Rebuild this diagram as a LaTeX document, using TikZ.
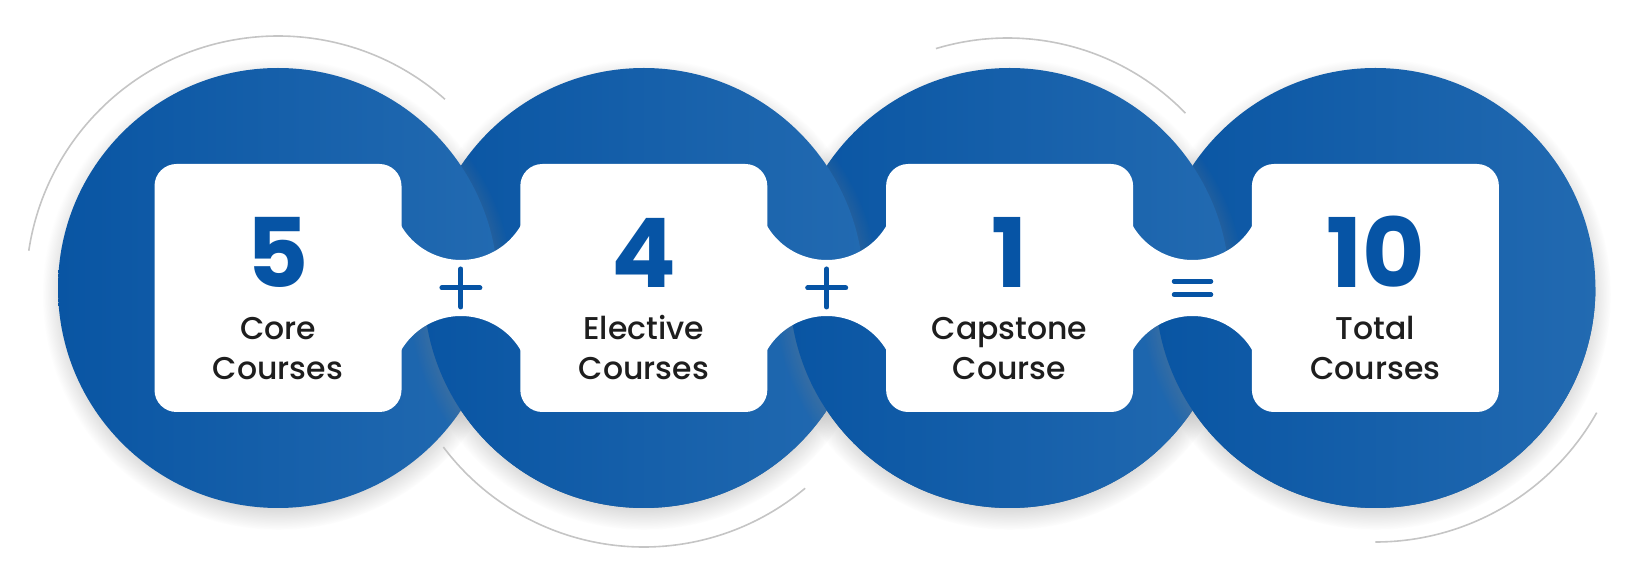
\documentclass[tikz,border=0pt]{standalone}
\usepackage{fontspec}
\IfFontExistsTF{Poppins Medium}
	{\setmainfont{Poppins}[UprightFont=* Medium, BoldFont=* Bold]}
	{\setmainfont{Poppins}}
\usetikzlibrary{calc,shadows}

\definecolor{ringdark}{HTML}{0955A3}
\definecolor{ringlight}{HTML}{226AB1}
\definecolor{numblue}{HTML}{0654A5}
\definecolor{txtgray}{HTML}{1E1E1E}
\definecolor{arcgray}{HTML}{C5C5C5}

\tikzset{
	ring/.style={circle, minimum size=440pt, inner sep=0pt, left color=ringdark, right color=ringlight,
		circular drop shadow={shadow scale=1.07, shadow xshift=0pt, shadow yshift=-6pt, opacity=.45}},
	card/.style={rectangle, rounded corners=22pt, fill=white, minimum width=247pt, minimum height=248pt, inner sep=0pt},
	count/.style={font=\bfseries\fontsize{96}{96}\selectfont, text=numblue, anchor=base, inner sep=0pt},
	caption/.style={font=\fontsize{31.5}{40}\selectfont, text=txtgray, align=center, anchor=base, inner sep=0pt},
	sign/.style={line width=5pt, line cap=round, draw=numblue},
	trail/.style={line width=1.6pt, draw=arcgray}
}
% white bridge between two cards, centred on a gap coordinate
\def\bridge(#1){\fill[white, shift={(#1)}] (-63,68.5) arc[start angle=204.54, end angle=335.46, radius=69.25]
	-- (63,-68.5) arc[start angle=24.54, end angle=155.46, radius=69.25] -- cycle;}

\begin{document}
\begin{tikzpicture}[x=1pt, y=1pt]
			%%%%% START %%%%%
			\useasboundingbox (0,0) rectangle (1641,581);

			% rings, left one on top at the upper crossings
			\node[ring] (c4) at (1375.4,293) {};
			\node[ring] (c3) at (1009.6,293) {};
			\node[ring] (c2) at (643.8,293) {};
			\node[ring] (c1) at (278,293) {};

			% lower crossings: right ring on top
			\begin{scope}
				\clip (0,0) rectangle (1641,293);
				\clip (c1.center) circle (220) (c2.center) circle (220) (c3.center) circle (220) (c4.center) circle (220);
				\foreach \i in {2,3,4}
					\node[ring] at (c\i) {};
			\end{scope}

			% thin grey arcs
			\draw[trail] ($(c1.center)+(48.5:252)$) arc[start angle=48.5, end angle=171.5, radius=252];
			\draw[trail] ($(c2.center)+(0,-8)+(217:251)$) arc[start angle=217, end angle=310, radius=251];
			\draw[trail] ($(c3.center)+(-2,2)+(44.2:248)$) arc[start angle=44.2, end angle=106.8, radius=248];
			\draw[trail] ($(c4.center)+(-90:254)$) arc[start angle=-90, end angle=-29.4, radius=254];

			% cards
			\node[card] (b1) at (c1) {};
			\node[card] (b2) at (c2) {};
			\node[card] (b3) at (c3) {};
			\node[card] (b4) at (c4) {};

			\coordinate (g1) at ($(b1.east)!.5!(b2.west)$);
			\coordinate (g2) at ($(b2.east)!.5!(b3.west)$);
			\coordinate (g3) at ($(b3.east)!.5!(b4.west)$);
			\bridge(g1)
			\bridge(g2)
			\bridge(g3)

			% plus, plus, equals
			\draw[sign] ([xshift=-19pt]g1) -- ([xshift=19pt]g1) ([yshift=-19pt]g1) -- ([yshift=19pt]g1);
			\draw[sign] ([xshift=-19pt]g2) -- ([xshift=19pt]g2) ([yshift=-19pt]g2) -- ([yshift=19pt]g2);
			\draw[sign, line width=4.5pt] ($(g3)+(-18.5,6.6)$) -- ($(g3)+(18.5,6.6)$) ($(g3)+(-18.5,-6.6)$) -- ($(g3)+(18.5,-6.6)$);

			% numbers and captions (base = last line)
			\node[count] (n1) at (c1.center) {5};
			\node[count] (n2) at (c2.center) {4};
			\node[count] (n3) at (c3.center) {1};
			\node[count] (n4) at (c4.center) {10};

			\node[caption] (t1) at ($(c1.center)+(0,-92)$) {Core\\Courses};
			\node[caption] (t2) at ($(c2.center)+(0,-92)$) {Elective\\Courses};
			\node[caption] (t3) at ($(c3.center)+(0,-92)$) {Capstone\\Course};
			\node[caption] (t4) at ($(c4.center)+(0,-92)$) {Total\\Courses};
			%%%%% END %%%%%
\end{tikzpicture}
\end{document}
